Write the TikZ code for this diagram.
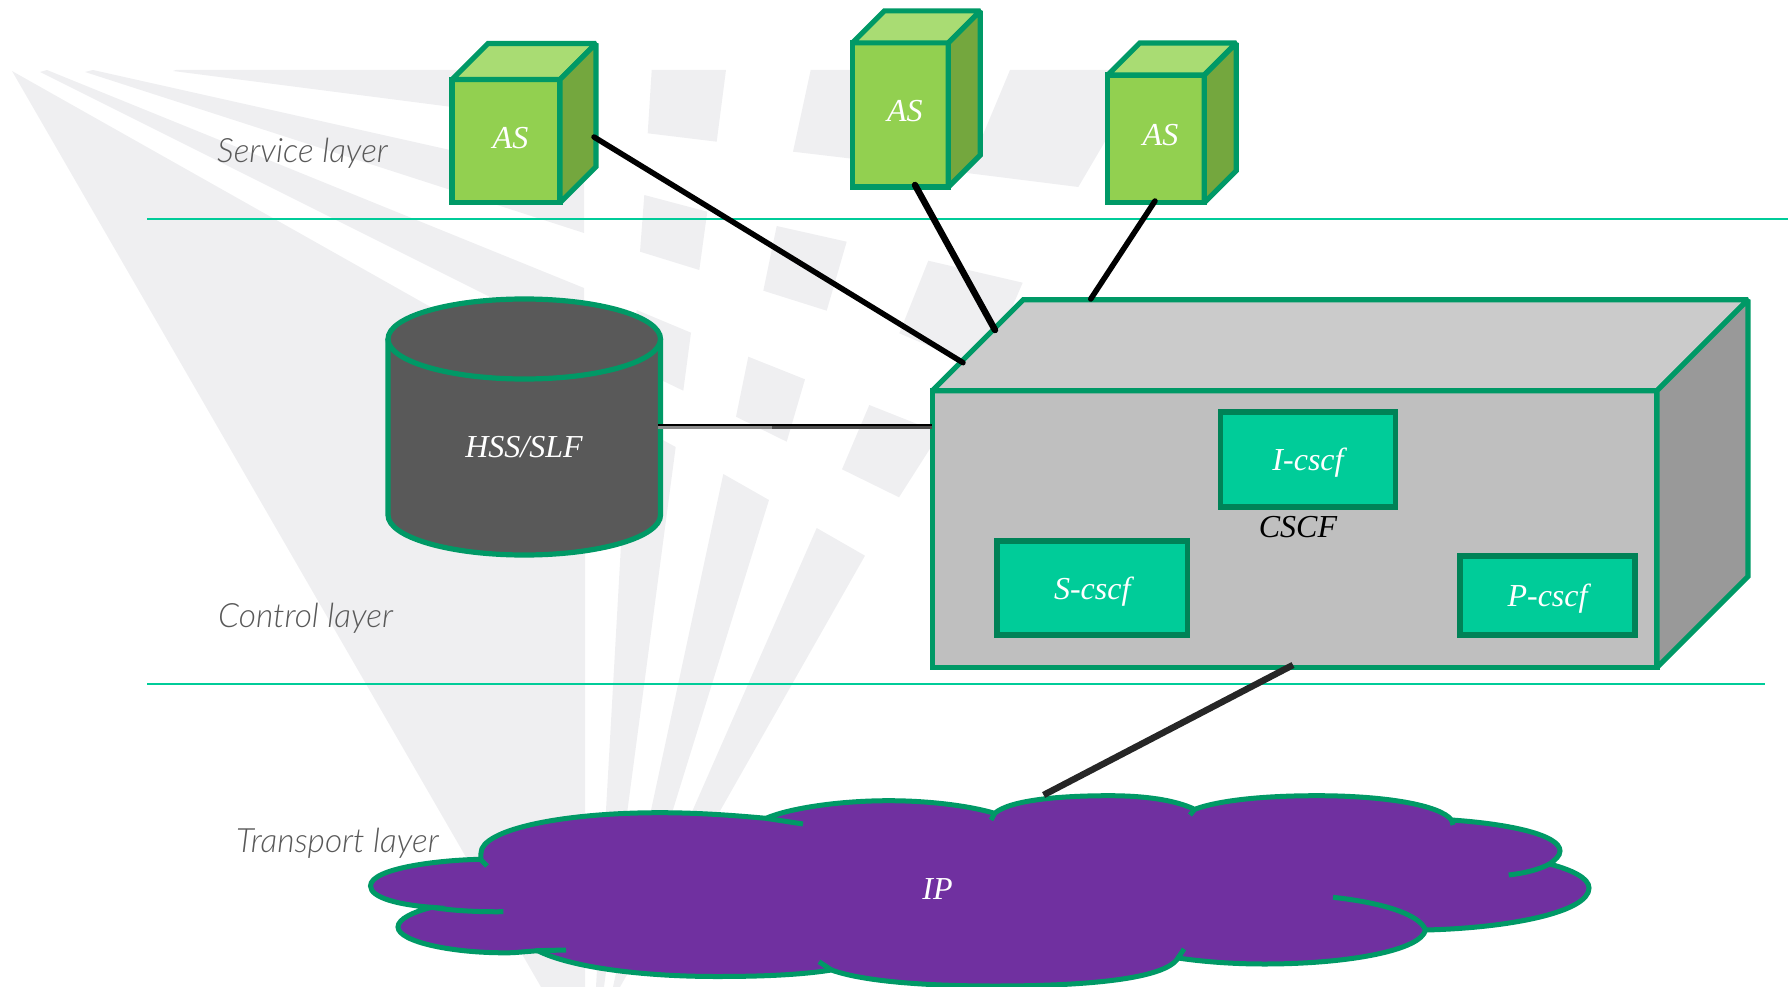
\documentclass[tikz,border=0pt]{standalone}
\usepackage{fontspec}
\setmainfont{Liberation Serif}
\newfontfamily\layerfont{Lato Light}
\usetikzlibrary{
    positioning,
    calc,
}
\definecolor{raygray}{HTML}{EFEFF1}
\definecolor{rimgreen}{HTML}{009966}
\definecolor{linegreen}{HTML}{00CC99}
\definecolor{asfront}{HTML}{92D050}
\definecolor{astop}{HTML}{A9DC73}
\definecolor{asside}{HTML}{74A73E}
\definecolor{hssgray}{HTML}{595959}
\definecolor{boxfront}{HTML}{BFBFBF}
\definecolor{boxtop}{HTML}{CBCBCB}
\definecolor{boxside}{HTML}{999999}
\definecolor{cloudpurple}{HTML}{7030A0}

\begin{document}
\begin{tikzpicture}[
    x=1pt, y=-1pt,
    ray/.style={fill=raygray, draw=none},
    layerline/.style={draw=linegreen, line width=2pt},
    layertext/.style={anchor=base west, inner sep=0pt, text=hssgray,
    font=\layerfont\itshape\fontsize{33.5}{38}\selectfont},
    whitetext/.style={inner sep=0pt, text=white,
    font=\itshape\fontsize{32}{38}\selectfont},
    face/.style={draw=rimgreen, line width=5.2pt, line join=miter, miter limit=2},
    asbox/.style={face, fill=asfront, inner sep=0pt, outer sep=0pt},
    cscfbox/.style={draw=rimgreen!85!black, line width=5.5pt, fill=linegreen,
    inner sep=0pt, outer sep=0pt, whitetext, text depth=0pt},
    cloudline/.style={draw=rimgreen, line width=5pt},
    link/.style={draw=black, line width=5.5pt, line cap=round},
]
\useasboundingbox (0,0) rectangle (1788,987);

% RAYS
\fill[ray] (12,71) -- (585,394) -- (585,987) -- (541,987) -- cycle;
\fill[ray] (40,72) -- (47,70) -- (584,288) -- (584,344) -- cycle;
\fill[ray] (85,72) -- (93,70) -- (584,180) -- (584,233) -- cycle;
\fill[ray] (173,71) -- (176,70) -- (584,70) -- (584,124) -- cycle;

% STRIPS
\fill[ray] (628,421) -- (675.7,447) -- (604,987) -- (596,987) -- cycle;
\fill[ray] (723.3,474) -- (769,500) -- (618,987) -- (613,987) -- cycle;
\fill[ray] (816.7,528) -- (865,555.7) -- (620,987) -- (615,987) -- cycle;

% TILES
\fill[ray] (651.7,70) -- (726,70) -- (716.7,141.7) -- (647.7,133.3) -- cycle;
\fill[ray] (810.7,70) -- (900,70) -- (880,162) -- (793,151.7) -- cycle;
\fill[ray] (1010,70) -- (1147,70) -- (1078.3,187) -- (967,173) -- cycle;
\fill[ray] (644.3,195) -- (707.3,211.7) -- (699.3,270) -- (640,251.7) -- cycle;
\fill[ray] (776.7,226) -- (846.7,241.7) -- (826.7,310.7) -- (763.3,290.7) -- cycle;
\fill[ray] (928.3,260.7) -- (1022.7,282.7) -- (985,370) -- (899.3,333.3) -- cycle;
\fill[ray] (636.7,310) -- (691,332.7) -- (683.3,390.7) -- (630,365) -- cycle;
\fill[ray] (748.3,356.7) -- (805,379.3) -- (786.7,441.7) -- (736,416.7) -- cycle;
\fill[ray] (869.3,405) -- (940,433) -- (899,497.3) -- (842,469.3) -- cycle;

% LAYERS
\draw[layerline] (147,219) -- (1788,219);
\draw[layerline] (147,684) -- (1765,684);
\node[layertext] at (217,163) (service) {Service layer};
\node[layertext] at (218,627) (control) {Control layer};
\node[layertext] at (236,852) (transport) {Transport layer};

% AS
\foreach \n/\x/\y/\w/\h/\d in {as1/506/141.1/108/123.2/36, as2/900.3/115/96/144.2/32, as3/1156/138.9/96.6/127.7/32} {
    \node[asbox, minimum width=\w pt, minimum height=\h pt] at (\x,\y) (\n) {};
    \draw[face, fill=astop] (\n.north west) -- ($(\n.north west)+(\d,-\d)$)
        -- ($(\n.north east)+(\d,-\d)$) -- (\n.north east) -- cycle;
    \draw[face, fill=asside] (\n.north east) -- ($(\n.north east)+(\d,-\d)$)
        -- ($(\n.south east)+(\d,-\d)$) -- (\n.south east) -- cycle;
    \node[whitetext] at ($(\n)+(4.5,-3.5)$) (\n text) {AS};
}

% HSS/SLF
\draw[face, fill=hssgray] (388,339) -- (388,515) arc[start angle=180, end angle=360,
    x radius=136.25, y radius=-40] -- (660.5,339);
\draw[face, fill=hssgray] (524.25,339) ellipse[x radius=136.25, y radius=40];
\node[whitetext] at (524,447) (hss) {HSS/SLF};

% CSCF
\node[face, fill=boxfront, minimum width=724.7pt, minimum height=276.8pt, inner sep=0pt,
    outer sep=0pt] at (1294.65,529.1) (cscf) {};
\draw[face, fill=boxtop] (cscf.north west) -- ($(cscf.north west)+(91,-91)$)
    -- ($(cscf.north east)+(91,-91)$) -- (cscf.north east) -- cycle;
\draw[face, fill=boxside] (cscf.north east) -- ($(cscf.north east)+(91,-91)$)
    -- ($(cscf.south east)+(91,-91)$) -- (cscf.south east) -- cycle;
\node[cscfbox, minimum width=175pt, minimum height=95pt] at (1308,459.7) (icscf) {I-cscf};
\node[cscfbox, minimum width=190.5pt, minimum height=94pt] at (1092.2,588) (scscf) {S-cscf};
\node[cscfbox, minimum width=175pt, minimum height=79pt] at (1547.5,595.5) (pcscf) {P-cscf};
\node[inner sep=0pt, font=\itshape\fontsize{32}{38}\selectfont] at (1298,526.7) (cscfname) {CSCF};

% CLOUD
\draw[cloudline, fill=cloudpurple] (480.6,859.3)
    .. controls (440,860) and (370.5,868) .. (370.5,886)
    .. controls (370.5,898) and (400,905) .. (431.6,907.3)
    .. controls (413,912) and (398,919) .. (398,927)
    .. controls (398,942) and (455,954) .. (513,952.7)
    -- (537.7,950.7)
    .. controls (570,967) and (640,976.5) .. (717,976.5)
    .. controls (760,976.5) and (800,975) .. (831.4,970)
    .. controls (865,982) and (930,986) .. (995,986)
    .. controls (1080,986) and (1165,980) .. (1178,958)
    .. controls (1205,962) and (1235,964) .. (1264,964)
    .. controls (1350,964) and (1421,950) .. (1425.5,930)
    .. controls (1510,928) and (1589,912) .. (1589,888)
    .. controls (1589,878) and (1572,870) .. (1549.5,864)
    .. controls (1555,860) and (1560,856) .. (1560,851)
    .. controls (1560,835) and (1510,824) .. (1451.6,820)
    .. controls (1440,805) and (1385,795.7) .. (1317,795.7)
    .. controls (1265,795.7) and (1220,800) .. (1194.6,809.3)
    .. controls (1175,800) and (1145,795.7) .. (1109,795.7)
    .. controls (1060,795.7) and (1010,800) .. (994.6,813.3)
    .. controls (970,806) and (930,800.7) .. (888.6,800.7)
    .. controls (840,800.7) and (790,808) .. (766,818.3)
    .. controls (730,815) and (695,812.7) .. (660,812.7)
    .. controls (560,812.7) and (481,830) .. (481,853)
    -- cycle;
\draw[cloudline] (431.6,907.3) .. controls (455,911) and (480,912) .. (503.4,911.7);
\draw[cloudline] (536,950.7) -- (566,950);
\draw[cloudline] (831.4,970) -- (819,961.7);
\draw[cloudline] (1425.5,930) .. controls (1420,915) and (1385,903) .. (1333,897.3);
\draw[cloudline] (1549.5,864) .. controls (1538,870) and (1525,873) .. (1508.7,875);
\draw[cloudline] (1451.6,820) -- (1453,825);
\draw[cloudline] (1194.6,809.3) -- (1190,815);
\draw[cloudline] (994.6,813.3) -- (991,820);
\draw[cloudline] (766,818.3) -- (803,824);
\draw[cloudline] (480.6,859.3) -- (487,866);
\draw[cloudline] (1178,958) -- (1184,949);
\node[whitetext] at (937.5,889) (ip) {IP};

% CONNECTORS
\coordinate (as1port) at (594,137);
\coordinate (as2port) at (915,185);
\coordinate (as3port) at (1155,201);
\coordinate (cscfport1) at (963,362.7);
\coordinate (cscfport2) at (995,330);
\coordinate (cscfport3) at (1090.7,299);
\coordinate (cscfport4) at (1293,665);
\coordinate (ipport) at (1043.6,795);
\coordinate (hssport) at (658,427);
\coordinate (hssmid) at (772,427);
\coordinate (cscfport5) at (931.7,427);

\draw[link] (as1port) -- (cscfport1);
\draw[link, line width=6.5pt] (as2port) -- (cscfport2);
\draw[link] (as3port) -- (cscfport3);
\draw[link, draw=black!85, line width=6.5pt, line cap=butt] (cscfport4) -- (ipport);
\draw[draw=black!70, line width=4.5pt] (hssport) -- (cscfport5);
\draw[draw=black!45, line width=3.5pt] ($(hssport)+(0,0.5)$) -- ($(hssmid)+(0,0.5)$);
\draw[draw=black, line width=1.2pt] ($(hssport)+(0,-2)$) -- ($(cscfport5)+(0,-2)$);

\end{tikzpicture}
\end{document}
